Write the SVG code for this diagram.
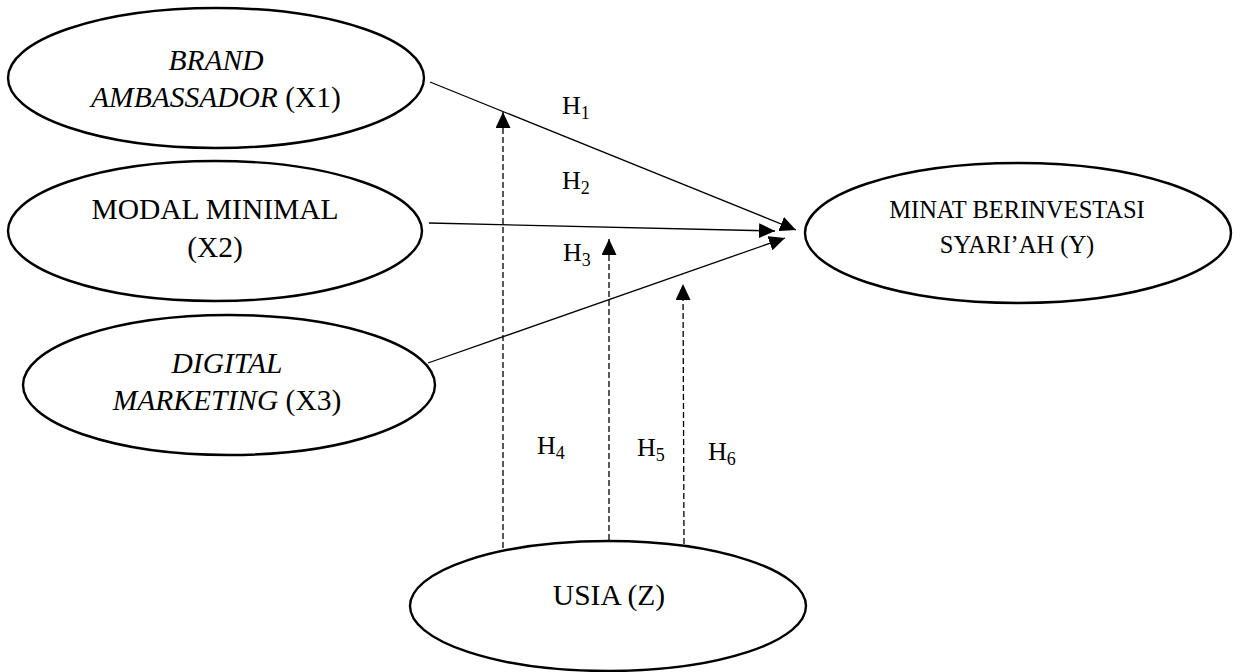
<svg xmlns="http://www.w3.org/2000/svg" width="1240" height="672" viewBox="0 0 1240 672">
  <style>
    .node { fill: #fff; stroke: #000; stroke-width: 2.4; }
    .lbl { font-family: "Liberation Serif", "Times New Roman", serif; font-size: 29.5px; fill: #000; text-anchor: middle; }
    .lblY { font-family: "Liberation Serif", "Times New Roman", serif; font-size: 24.5px; fill: #000; text-anchor: middle; }
    .it { font-style: italic; }
    .conn { stroke: #000; stroke-width: 1.3; fill: none; }
    .dash { stroke: #000; stroke-width: 1.3; fill: none; stroke-dasharray: 6 3; }
    .h { font-family: "Liberation Serif", "Times New Roman", serif; font-size: 26px; fill: #000; }
    .sub { font-size: 18px; }
  </style>
  <defs>
    <marker id="arr" markerUnits="userSpaceOnUse" markerWidth="17" markerHeight="15" refX="16" refY="7.5" orient="auto" viewBox="0 0 17 15">
      <path d="M0,0 L16,7.5 L0,15 z" fill="#000" stroke="none"/>
    </marker>
  </defs>
  <rect width="1240" height="672" fill="#fff"/>

  <g id="connectors">
    <line class="conn" x1="430" y1="82" x2="796" y2="230" marker-end="url(#arr)"/>
    <line class="conn" x1="429" y1="223" x2="775" y2="231" marker-end="url(#arr)"/>
    <line class="conn" x1="428" y1="363" x2="785" y2="238" marker-end="url(#arr)"/>
    <line class="dash" x1="503" y1="548" x2="503" y2="112" marker-end="url(#arr)"/>
    <line class="dash" x1="609" y1="540" x2="609" y2="239" marker-end="url(#arr)"/>
    <line class="dash" x1="684" y1="544" x2="683" y2="284" marker-end="url(#arr)"/>
  </g>

  <g id="labels">
    <text class="h" x="562" y="114">H<tspan class="sub" dy="5">1</tspan></text>
    <text class="h" x="562" y="189">H<tspan class="sub" dy="5">2</tspan></text>
    <text class="h" x="563" y="261">H<tspan class="sub" dy="5">3</tspan></text>
    <text class="h" x="537" y="454">H<tspan class="sub" dy="5">4</tspan></text>
    <text class="h" x="637" y="456">H<tspan class="sub" dy="5">5</tspan></text>
    <text class="h" x="708" y="460">H<tspan class="sub" dy="5">6</tspan></text>
  </g>

  <g id="x1">
    <ellipse class="node" cx="216" cy="78" rx="208" ry="70"/>
    <text class="lbl" x="216" y="70"><tspan class="it">BRAND</tspan></text>
    <text class="lbl" x="216" y="107"><tspan class="it">AMBASSADOR</tspan> (X1)</text>
  </g>

  <g id="x2">
    <ellipse class="node" cx="215" cy="231" rx="207" ry="70"/>
    <text class="lbl" x="215" y="219">MODAL MINIMAL</text>
    <text class="lbl" x="215" y="257">(X2)</text>
  </g>

  <g id="x3">
    <ellipse class="node" cx="229" cy="385" rx="206" ry="70"/>
    <text class="lbl" x="227" y="373"><tspan class="it">DIGITAL</tspan></text>
    <text class="lbl" x="227" y="410"><tspan class="it">MARKETING</tspan> (X3)</text>
  </g>

  <g id="y">
    <ellipse class="node" cx="1018" cy="233" rx="213" ry="70"/>
    <text class="lblY" x="1017" y="218">MINAT BERINVESTASI</text>
    <text class="lblY" x="1017" y="253">SYARI’AH (Y)</text>
  </g>

  <g id="z">
    <ellipse class="node" cx="608" cy="606" rx="198" ry="65"/>
    <text class="lbl" x="609" y="605">USIA (Z)</text>
  </g>
</svg>
